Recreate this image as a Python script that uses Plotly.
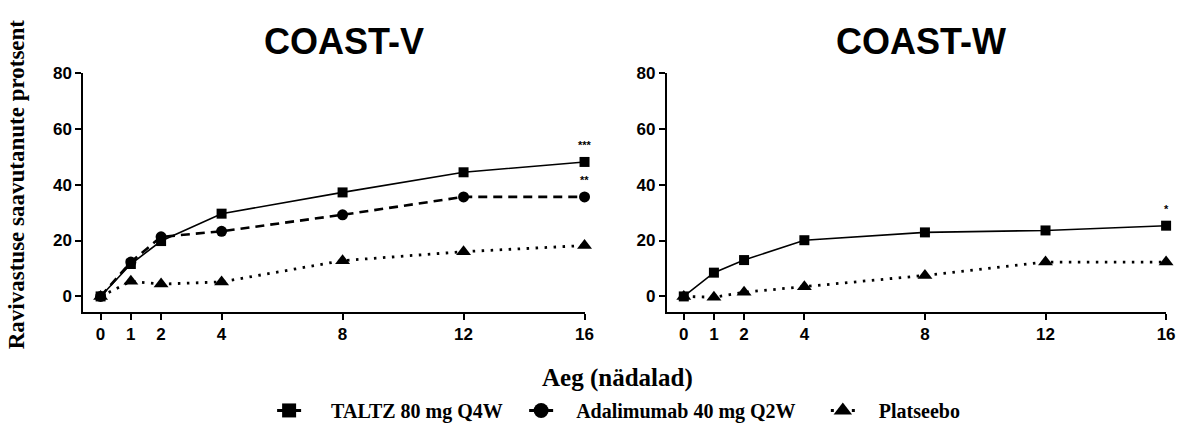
import plotly.graph_objects as go

# Weeks of assessment
weeks = [0, 1, 2, 4, 8, 12, 16]

# COAST-V response (%)
taltz_v = [0, 11.6, 19.8, 29.6, 37.2, 44.4, 48.1]
adalimumab_v = [0, 12.3, 21.3, 23.3, 29.2, 35.6, 35.6]
placebo_v = [0, 5.4, 4.4, 5.2, 12.8, 16.0, 18.2]

# COAST-W response (%)
taltz_w = [0, 8.5, 13.0, 20.1, 22.9, 23.6, 25.3]
placebo_w = [0, -0.3, 1.5, 3.5, 7.5, 12.3, 12.3]

series_names = ["TALTZ 80 mg Q4W", "Adalimumab 40 mg Q2W", "Platseebo"]
panel_titles = ["COAST-V", "COAST-W"]
y_ticks = [0, 20, 40, 60, 80]
x_title = "Aeg (nädalad)"
y_title = "Ravivastuse saavutanute protsent"

W, H = 1187, 430
SANS = "Liberation Sans, Arial, sans-serif"
SERIF = "Liberation Serif, Times New Roman, serif"

styles = {
    series_names[0]: dict(symbol="square", size=10, dash="solid", width=1.6),
    series_names[1]: dict(symbol="circle", size=11, dash="9px,6px", width=2.6),
    series_names[2]: dict(symbol="triangle-up", size=13, dash="2.5px,6.5px", width=2.8),
}
# legend keys: short stub of line either side of a larger marker
# (lx = legend left edge in px, iw = symbol width, dash hides the ends of the key line)
legend_keys = {
    series_names[0]: dict(id="legend", lx=249, iw=74, size=14, width=3,
                          dash="0px,25px,24px,300px"),
    series_names[1]: dict(id="legend2", lx=510, iw=60, size=15, width=3,
                          dash="0px,18px,24px,300px"),
    series_names[2]: dict(id="legend3", lx=813, iw=62, size=16, width=3,
                          dash="0px,19px,3px,18px,3px,300px"),
}

fig = go.Figure()


def add_series(values, name, xa, ya):
    st = styles[name]
    fig.add_trace(go.Scatter(
        x=weeks, y=values, name=name, mode="lines+markers",
        xaxis=xa, yaxis=ya, showlegend=False,
        line=dict(color="black", width=st["width"], dash=st["dash"]),
        marker=dict(symbol=st["symbol"], size=st["size"], color="black",
                    line=dict(width=0)),
        cliponaxis=False,
    ))


add_series(placebo_v, series_names[2], "x", "y")
add_series(adalimumab_v, series_names[1], "x", "y")
add_series(taltz_v, series_names[0], "x", "y")
add_series(placebo_w, series_names[2], "x2", "y2")
add_series(taltz_w, series_names[0], "x2", "y2")

# legend-only entries
for name in series_names:
    st, lk = styles[name], legend_keys[name]
    fig.add_trace(go.Scatter(
        x=[None], y=[None], name=name, mode="lines+markers",
        legend=lk["id"], showlegend=True,
        line=dict(color="black", width=lk["width"], dash=lk["dash"]),
        marker=dict(symbol=st["symbol"], size=lk["size"], color="black",
                    line=dict(width=0)),
    ))

tickfont = dict(family=SANS, size=17, color="black", weight="bold")
common_x = dict(tickvals=weeks, ticktext=[str(w) for w in weeks], showline=True,
                linecolor="black", linewidth=2, ticks="outside", ticklen=6,
                tickwidth=2, tickcolor="black", showgrid=False, zeroline=False,
                tickfont=tickfont, fixedrange=True)
common_y = dict(tickvals=y_ticks, range=[-5.57, 80], showline=True,
                linecolor="black", linewidth=2, ticks="outside", ticklen=6,
                tickwidth=2, tickcolor="black", showgrid=False, zeroline=False,
                tickfont=tickfont, domain=[1 - 317 / H, 1 - 66.7 / H])

fig.update_layout(
    width=W, height=H, autosize=False,
    margin=dict(l=0, r=0, t=0, b=0),
    paper_bgcolor="white", plot_bgcolor="white",
    xaxis=dict(domain=[84 / W, 589 / W], range=[-0.57, 16], anchor="y", **common_x),
    yaxis=dict(anchor="x", **common_y),
    xaxis2=dict(domain=[672 / W, 1175 / W], range=[-0.56, 16], anchor="y2", **common_x),
    yaxis2=dict(anchor="x2", **common_y),
)

# one legend box per series so each key can sit at its own spot
leg_font = dict(family=SERIF, size=20, color="black", weight="bold")
for name in series_names:
    lk = legend_keys[name]
    fig.update_layout({lk["id"]: dict(
        x=lk["lx"] / W, y=1 - 420 / H, xanchor="left", yanchor="middle",
        orientation="h", font=leg_font, itemwidth=lk["iw"],
        bgcolor="rgba(0,0,0,0)", borderwidth=0)})

annotations = [
    dict(text=panel_titles[0], x=347 / W, y=1 - 34 / H),
    dict(text=panel_titles[1], x=928 / W, y=1 - 34 / H),
]
for a in annotations:
    a.update(xref="paper", yref="paper", xanchor="center", yanchor="middle",
             showarrow=False, font=dict(family=SANS, size=36, color="black", weight="bold"))

annotations += [
    dict(text=x_title, xref="paper", yref="paper", x=622 / W, y=1 - 386 / H,
         xanchor="center", yanchor="middle", showarrow=False,
         font=dict(family=SERIF, size=25, color="black", weight="bold")),
    dict(text=y_title, xref="paper", yref="paper", x=17 / W, y=1 - 183.5 / H,
         xanchor="center", yanchor="middle", showarrow=False, textangle=-90,
         font=dict(family=SERIF, size=23, color="black", weight="bold")),
]

# significance marks at week 16
star_font = dict(family=SANS, size=11, color="black", weight="bold")
for stars, xa, ya, val in [("***", "x", "y", taltz_v[-1]),
                           ("**", "x", "y", adalimumab_v[-1]),
                           ("*", "x2", "y2", taltz_w[-1])]:
    annotations.append(dict(text=stars, x=weeks[-1], y=val, xref=xa, yref=ya,
                            yshift=17, showarrow=False, font=star_font,
                            xanchor="center", yanchor="middle"))

fig.update_layout(annotations=annotations)
fig.write_html("out.html")
